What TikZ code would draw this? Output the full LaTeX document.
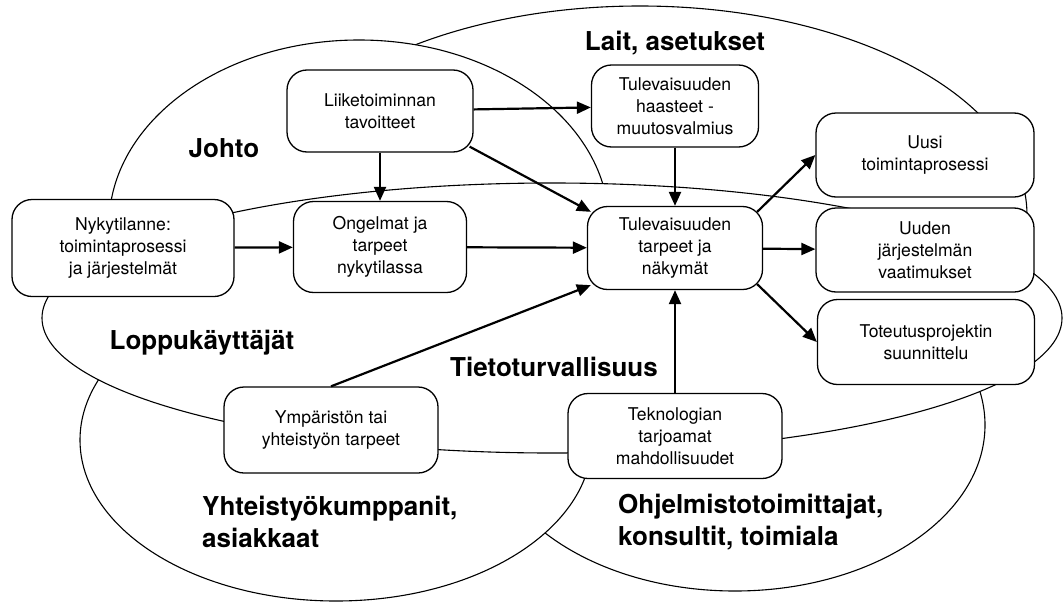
\documentclass[tikz,border=0pt]{standalone}
\usepackage{fontspec}
\setmainfont{TeX Gyre Heros}
\usetikzlibrary{arrows.meta}

\tikzset{
  zone/.style={draw, fill=white, line width=1.1pt},
  zonetext/.style={font=\fontsize{26}{31.7}\selectfont\bfseries, inner sep=0pt},
  box/.style={draw, fill=white, rounded corners=20pt, line width=1.3pt,
    align=center, inner sep=0pt, font=\fontsize{17.6}{22}\selectfont},
  flow/.style={line width=2.2pt, -{Triangle[length=14pt, width=12pt]}}
}

\begin{document}
\begin{tikzpicture}[x=1pt, y=-1pt]
    \useasboundingbox (0, 0) rectangle (1064, 602);
    % areas
    \draw [zone] (640, 215) ellipse [x radius=387, y radius=209];
    \draw [zone] (359, 225) ellipse [x radius=250, y radius=185];
    \draw [zone] (735, 425) ellipse [x radius=250, y radius=166];
    \draw [zone] (336, 440) ellipse [x radius=256, y radius=161];
    \draw [zone] (552, 318) ellipse [x radius=510, y radius=135];
    %
    \node [zonetext, anchor=base] at (675, 50) {Lait, asetukset};
    \node [zonetext, anchor=base] at (224, 157) {Johto};
    \node [zonetext, anchor=base] at (202, 349) {Loppukäyttäjät};
    \node [zonetext, anchor=base] at (554, 376) {Tietoturvallisuus};
    \node [zonetext, anchor=west, align=left] at (202, 522) {Yhteistyökumppanit,\\asiakkaat};
    \node [zonetext, anchor=west, align=left] at (618, 522) {Ohjelmistotoimittajat,\\konsultit, toimiala};
    % boxes
    \node [box, minimum width=222, minimum height=97] (nyky) at (123, 248) {Nykytilanne:\\toimintaprosessi\\ja järjestelmät};
    \node [box, minimum width=186, minimum height=82] (liike) at (380, 111) {Liiketoiminnan\\tavoitteet};
    \node [box, minimum width=173, minimum height=91] (ongel) at (380, 247) {Ongelmat ja\\tarpeet\\nykytilassa};
    \node [box, minimum width=167, minimum height=82] (haast) at (675, 106) {Tulevaisuuden\\haasteet -\\muutosvalmius};
    \node [box, minimum width=175, minimum height=83] (tarp) at (675, 248) {Tulevaisuuden\\tarpeet ja\\näkymät};
    \node [box, minimum width=218, minimum height=84] (uusi) at (925, 155) {Uusi\\toimintaprosessi};
    \node [box, minimum width=218, minimum height=84] (uuden) at (925, 250) {Uuden\\järjestelmän\\vaatimukset};
    \node [box, minimum width=217, minimum height=85] (toteu) at (926, 342) {Toteutusprojektin\\suunnittelu};
    \node [box, minimum width=214, minimum height=86] (ymp) at (331, 430) {Ympäristön tai\\yhteistyön tarpeet};
    \node [box, minimum width=214, minimum height=85] (tekno) at (675, 436) {Teknologian\\tarjoamat\\mahdollisuudet};
    % arrows
    \draw [flow] (nyky) -- (ongel);
    \draw [flow] (liike) -- (ongel);
    \draw [flow] (liike) -- (haast);
    \draw [flow] ([shift={(-4,-6)}]liike.south east) -- ([shift={(4,6)}]tarp.north west);
    \draw [flow] (haast) -- (tarp);
    \draw [flow] (ongel) -- (tarp);
    \draw [flow] (tekno) -- (tarp);
    \draw [flow] (ymp.north) -- ([shift={(4,-5)}]tarp.south west);
    %
    \draw [flow] ([shift={(-6,6)}]tarp.north east) -- (uusi.west);
    \draw [flow] (tarp) -- (uuden);
    \draw [flow] ([shift={(-6,-6)}]tarp.south east) -- (toteu.west);
\end{tikzpicture}
\end{document}
